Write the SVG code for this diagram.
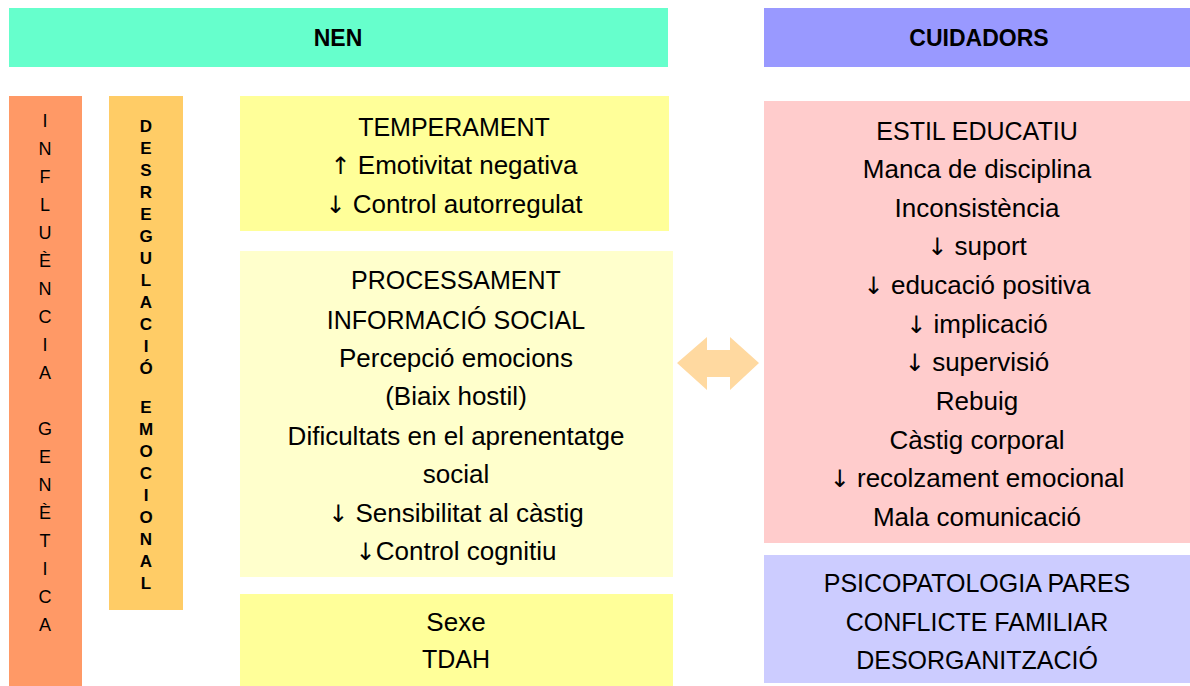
<svg xmlns="http://www.w3.org/2000/svg" width="1190" height="686" viewBox="0 0 1190 686">
<style>
text{font-family:"Liberation Sans",Arial,sans-serif;fill:#000}
.t{font-size:26px;text-anchor:middle}
.c{font-size:25px}
.a{font-family:"DejaVu Sans",sans-serif;font-size:24px}
.h{font-size:23px;font-weight:bold;text-anchor:middle}
.v{font-size:18px;text-anchor:middle}
.vb{font-size:17px;font-weight:bold;text-anchor:middle}
</style>
<rect width="1190" height="686" fill="#fff"/>
<g id="nen-header"><rect x="9" y="8" width="659" height="59" fill="#66FFCC"/><text class="h" x="338" y="46">NEN</text></g>
<g id="cuidadors-header"><rect x="764" y="8" width="426" height="59" fill="#9999FF"/><text class="h" x="979" y="46">CUIDADORS</text></g>
<g id="influencia"><rect x="9" y="96" width="73" height="590" fill="#FF9966"/>
<text class="v"><tspan x="45" y="127">I</tspan><tspan x="45" y="155">N</tspan><tspan x="45" y="183">F</tspan><tspan x="45" y="211">L</tspan><tspan x="45" y="239">U</tspan><tspan x="45" y="267">È</tspan><tspan x="45" y="295">N</tspan><tspan x="45" y="323">C</tspan><tspan x="45" y="351">I</tspan><tspan x="45" y="379">A</tspan><tspan x="45" y="435">G</tspan><tspan x="45" y="463">E</tspan><tspan x="45" y="491">N</tspan><tspan x="45" y="519">È</tspan><tspan x="45" y="547">T</tspan><tspan x="45" y="575">I</tspan><tspan x="45" y="603">C</tspan><tspan x="45" y="631">A</tspan></text></g>
<g id="desregulacio"><rect x="109" y="96" width="74" height="514" fill="#FFCC66"/>
<text class="vb"><tspan x="146" y="132">D</tspan><tspan x="146" y="154">E</tspan><tspan x="146" y="176">S</tspan><tspan x="146" y="198">R</tspan><tspan x="146" y="220">E</tspan><tspan x="146" y="242">G</tspan><tspan x="146" y="264">U</tspan><tspan x="146" y="286">L</tspan><tspan x="146" y="308">A</tspan><tspan x="146" y="330">C</tspan><tspan x="146" y="352">I</tspan><tspan x="146" y="374">Ó</tspan><tspan x="146" y="413">E</tspan><tspan x="146" y="435">M</tspan><tspan x="146" y="457">O</tspan><tspan x="146" y="479">C</tspan><tspan x="146" y="501">I</tspan><tspan x="146" y="523">O</tspan><tspan x="146" y="545">N</tspan><tspan x="146" y="567">A</tspan><tspan x="146" y="589">L</tspan></text></g>
<g id="temperament"><rect x="240" y="96" width="429" height="135" fill="#FFFF99"/>
<text class="t"><tspan class="c" x="454" y="136">TEMPERAMENT</tspan><tspan x="454" y="174"><tspan class="a">↑</tspan> Emotivitat negativa</tspan><tspan x="454" y="213"><tspan class="a">↓</tspan> Control autorregulat</tspan></text></g>
<g id="processament"><rect x="240" y="251" width="433" height="326" fill="#FFFFCC"/>
<text class="t"><tspan class="c" x="456" y="289">PROCESSAMENT</tspan><tspan class="c" x="456" y="329">INFORMACIÓ SOCIAL</tspan><tspan x="456" y="367">Percepció emocions</tspan><tspan x="456" y="405">(Biaix hostil)</tspan><tspan x="456" y="445">Dificultats en el aprenentatge</tspan><tspan x="456" y="483">social</tspan><tspan x="456" y="522"><tspan class="a">↓</tspan> Sensibilitat al càstig</tspan><tspan x="456" y="560"><tspan class="a">↓</tspan>Control cognitiu</tspan></text></g>
<g id="sexe"><rect x="240" y="594" width="433" height="92" fill="#FFFF99"/>
<text class="t"><tspan x="456" y="631">Sexe</tspan><tspan class="c" x="456" y="668">TDAH</tspan></text></g>
<g id="estil"><rect x="764" y="101" width="426" height="442" fill="#FFCCCC"/>
<text class="t"><tspan class="c" x="977" y="140">ESTIL EDUCATIU</tspan><tspan x="977" y="178">Manca de disciplina</tspan><tspan x="977" y="217">Inconsistència</tspan><tspan x="977" y="255"><tspan class="a">↓</tspan> suport</tspan><tspan x="977" y="294"><tspan class="a">↓</tspan> educació positiva</tspan><tspan x="977" y="333"><tspan class="a">↓</tspan> implicació</tspan><tspan x="977" y="371"><tspan class="a">↓</tspan> supervisió</tspan><tspan x="977" y="410">Rebuig</tspan><tspan x="977" y="449">Càstig corporal</tspan><tspan x="977" y="487"><tspan class="a">↓</tspan> recolzament emocional</tspan><tspan x="977" y="526">Mala comunicació</tspan></text></g>
<g id="psicopatologia"><rect x="764" y="555" width="426" height="128" fill="#CCCCFF"/>
<text class="t c"><tspan x="977" y="592">PSICOPATOLOGIA PARES</tspan><tspan x="977" y="631">CONFLICTE FAMILIAR</tspan><tspan x="977" y="669">DESORGANITZACIÓ</tspan></text></g>
<g id="connectors"><polygon points="677,363 707,337 707,350 730,350 730,337 759,363 730,390 730,377 707,377 707,390" fill="#FFD9A0"/></g>
</svg>
